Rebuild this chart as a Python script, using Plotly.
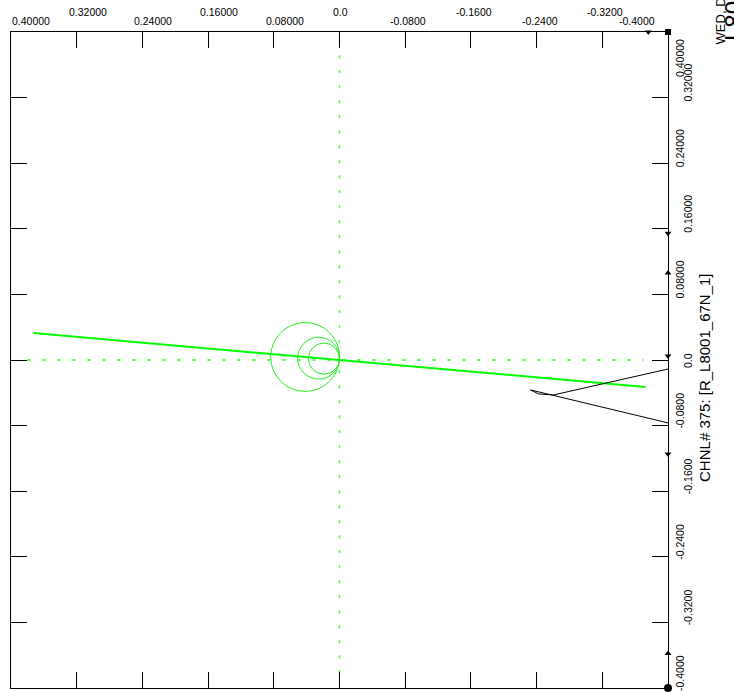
import math
import plotly.graph_objects as go

# ---------------- data ----------------
tick_vals = [0.4, 0.32, 0.24, 0.16, 0.08, 0.0, -0.08, -0.16, -0.24, -0.32, -0.4]
x_tick_text = ["0.40000", "0.32000", "0.24000", "0.16000", "0.08000", "0.0",
               "-0.0800", "-0.1600", "-0.2400", "-0.3200", "-0.4000"]
y_tick_text = ["0.40000", "0.32000", "0.24000", "0.16000", "0.08000", "0.0",
               "-0.0800", "-0.1600", "-0.2400", "-0.3200", "-0.4000"]

# line impedance characteristic (through origin)
line_r = [0.3727, -0.3727]
line_x = [0.0329, -0.0329]

# mho circles: reach (diameter) along line angle
mho_reach = [0.084, 0.051, 0.038]
mho_angle_deg = 5.05

# apparent impedance trajectory
traj_r = [-0.40, -0.2607, -0.2326, -0.2424, -0.2607, -0.40]
traj_x = [-0.0767, -0.0438, -0.0365, -0.0414, -0.0426, -0.0110]

# reference (dotted) axes
ref_h_r = [0.38, -0.37]
ref_h_x = [0.0, 0.0]
ref_v_r = [0.0, 0.0]
ref_v_x = [0.39, -0.39]

# axis markers
mk_down_y = [0.1547, 0.005, -0.1145]
mk_up_y = [0.106, -0.358]
mk_top_x = [-0.376]

channel_label = "CHNL# 375: [R_L8001_67N_1]"
date_label = "WED, DE"
case_label = "L8001"

FONT = "Liberation Sans, Arial, sans-serif"
GREEN = "#00ff00"

fig = go.Figure()

fig.add_trace(go.Scatter(x=ref_h_r, y=ref_h_x, mode="lines",
                         line=dict(color="#44ff44", width=2, dash="3px,12px"),
                         hoverinfo="skip", showlegend=False))
fig.add_trace(go.Scatter(x=ref_v_r, y=ref_v_x, mode="lines",
                         line=dict(color="#44ff44", width=1.5, dash="3px,12px"),
                         hoverinfo="skip", showlegend=False))
fig.add_trace(go.Scatter(x=line_r, y=line_x, mode="lines",
                         line=dict(color=GREEN, width=2),
                         hoverinfo="skip", showlegend=False))
fig.add_trace(go.Scatter(x=traj_r, y=traj_x, mode="lines",
                         line=dict(color="black", width=1),
                         hoverinfo="skip", showlegend=False))

ang = math.radians(mho_angle_deg)
for d in mho_reach:
    r = d / 2
    cx, cy = r * math.cos(ang), r * math.sin(ang)
    fig.add_shape(type="circle", xref="x", yref="y",
                  x0=cx - r, x1=cx + r, y0=cy - r, y1=cy + r,
                  line=dict(color="#22ee22", width=1))

# axis markers
fig.add_trace(go.Scatter(x=[-0.4] * len(mk_down_y), y=mk_down_y, mode="markers",
                         marker=dict(symbol="triangle-down", size=6, color="black"),
                         cliponaxis=False, hoverinfo="skip", showlegend=False))
fig.add_trace(go.Scatter(x=[-0.4] * len(mk_up_y), y=mk_up_y, mode="markers",
                         marker=dict(symbol="triangle-up", size=6, color="black"),
                         cliponaxis=False, hoverinfo="skip", showlegend=False))
fig.add_trace(go.Scatter(x=mk_top_x, y=[0.4], mode="markers",
                         marker=dict(symbol="triangle-down", size=6, color="black"),
                         cliponaxis=False, hoverinfo="skip", showlegend=False))
fig.add_trace(go.Scatter(x=[-0.4], y=[-0.4], mode="markers",
                         marker=dict(symbol="circle", size=8, color="black"),
                         cliponaxis=False, hoverinfo="skip", showlegend=False))
fig.add_trace(go.Scatter(x=[-0.4], y=[0.4], mode="markers",
                         marker=dict(symbol="square", size=6, color="black"),
                         cliponaxis=False, hoverinfo="skip", showlegend=False))

ax = dict(range=[0.4, -0.4], tickvals=tick_vals, ticks="inside", ticklen=16,
          tickcolor="black", tickwidth=1, showticklabels=False, showline=True,
          linecolor="black", linewidth=1, mirror="ticks", showgrid=False,
          zeroline=False, fixedrange=True)
fig.update_xaxes(**ax)
ay = dict(ax)
ay["range"] = [-0.4, 0.4]
fig.update_yaxes(**ay)

annotations = []
# top tick labels (alternating rows)
n = len(tick_vals)
for i, (v, t) in enumerate(zip(tick_vals, x_tick_text)):
    row_y = 1.0168 if i % 2 == 0 else 1.0305
    if i == 0:
        xa, xs = "left", -1
    elif i == n - 1:
        xa, xs = "right", -11
    elif v > 0:
        xa, xs = "center", 11
    elif v == 0:
        xa, xs = "center", 1
    else:
        xa, xs = "center", 3
    annotations.append(dict(x=v, y=row_y, xref="x", yref="paper", text=t,
                            showarrow=False, xanchor=xa, yanchor="middle",
                            xshift=xs, font=dict(size=10.5, family=FONT, color="black")))
# right tick labels (rotated, alternating columns)
for i, (v, t) in enumerate(zip(tick_vals, y_tick_text)):
    col_x = 1.0183 if i % 2 == 0 else 1.0304
    if i == 0:
        ya, ys = "top", -5
    elif v == 0:
        ya, ys = "middle", 0
    else:
        ya, ys = "middle", 15
    annotations.append(dict(x=col_x, y=v, xref="paper", yref="y", text=t,
                            showarrow=False, xanchor="center", yanchor=ya,
                            yshift=ys, textangle=-90,
                            font=dict(size=10.5, family=FONT, color="black")))

annotations.append(dict(x=1.0563, y=0.4726, xref="paper", yref="paper",
                        text=channel_label, showarrow=False, textangle=-90,
                        xanchor="center", yanchor="middle",
                        font=dict(size=15, family=FONT, color="black")))
annotations.append(dict(x=1.0791, y=0.978, xref="paper", yref="paper",
                        text=date_label, showarrow=False, textangle=-90,
                        xanchor="center", yanchor="bottom",
                        font=dict(size=13, family=FONT, color="black")))
annotations.append(dict(x=1.0995, y=0.983, xref="paper", yref="paper",
                        text=case_label, showarrow=False, textangle=-90,
                        xanchor="center", yanchor="bottom",
                        font=dict(size=24, family=FONT, color="black")))

fig.update_layout(width=734, height=692,
                  margin=dict(l=11, r=66, t=32, b=4, pad=0, autoexpand=False),
                  paper_bgcolor="white", plot_bgcolor="white",
                  annotations=annotations, showlegend=False,
                  font=dict(family=FONT, color="black"))

fig.write_html("out.html", config={"displayModeBar": False},
               post_script="document.body.style.margin='0';"
                           "document.body.style.overflow='hidden';")
